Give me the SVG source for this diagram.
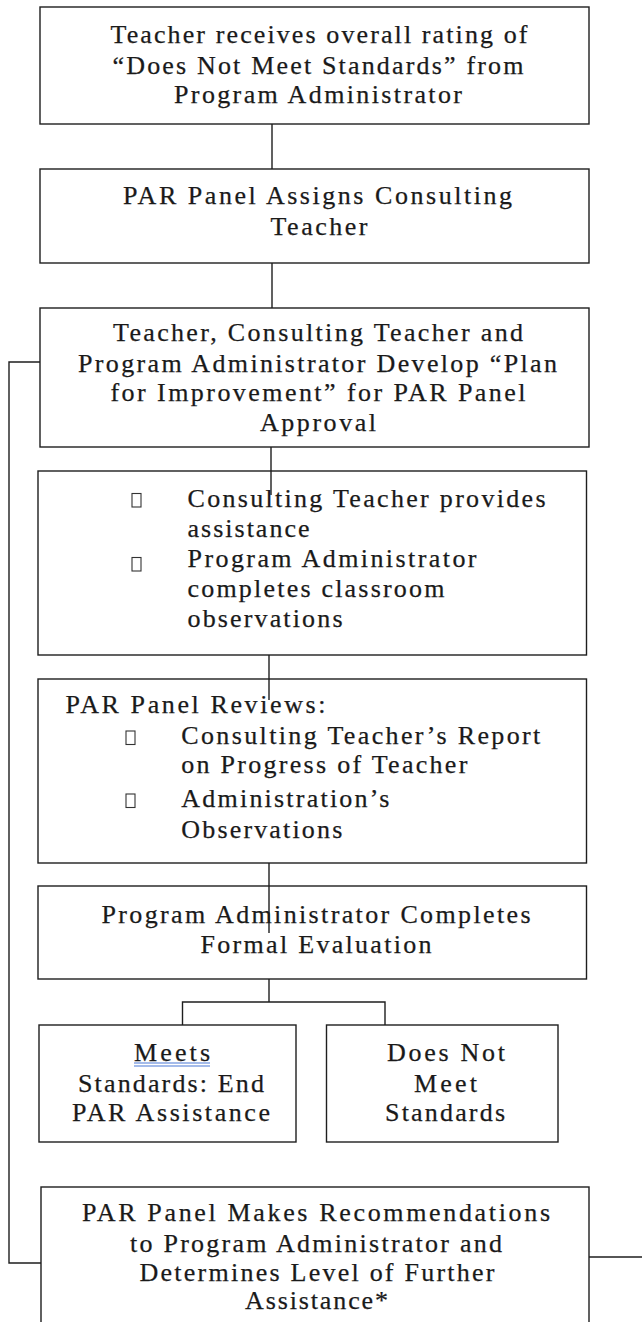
<svg xmlns="http://www.w3.org/2000/svg" width="642" height="1322" viewBox="0 0 642 1322">
<style>
.box{fill:#fff;stroke:#1e1e1e;stroke-width:1.4}
.ln{fill:none;stroke:#1e1e1e;stroke-width:1.4}
.t text{font-family:'Liberation Serif','Times New Roman',serif;font-size:26px;fill:#1a1a1a;stroke:#1a1a1a;stroke-width:0.25}
.c{text-anchor:middle}
.ul{stroke:#4a78d6;stroke-width:1.2}
.bl{fill:none;stroke:#333;stroke-width:1.1}
</style>
<rect width="642" height="1322" fill="#fff"/>
<g id="connectors">
<line class="ln" x1="272" y1="124" x2="272" y2="169"/>
<line class="ln" x1="272" y1="263" x2="272" y2="308"/>
<polyline class="ln" points="40,362 9,362 9,1263 41,1263"/>
<line class="ln" x1="589" y1="1257" x2="642" y2="1257"/>
<polyline class="ln" points="182.5,1025 182.5,1002 385,1002 385,1025"/>
<line class="ln" x1="269" y1="979" x2="269" y2="1002"/>
</g>
<g id="n1" class="t">
<rect class="box" x="40" y="7" width="549" height="117"/>
<text class="c" x="319" y="43" textLength="417" lengthAdjust="spacing">Teacher receives overall rating of</text>
<text class="c" x="318" y="74" textLength="411" lengthAdjust="spacing">“Does Not Meet Standards” from</text>
<text class="c" x="318" y="103" textLength="288" lengthAdjust="spacing">Program Administrator</text>
</g>
<g id="n2" class="t">
<rect class="box" x="40" y="169" width="549" height="94"/>
<text class="c" x="317.5" y="204" textLength="389" lengthAdjust="spacing">PAR Panel Assigns Consulting</text>
<text class="c" x="319" y="235" textLength="97" lengthAdjust="spacing">Teacher</text>
</g>
<g id="n3" class="t">
<rect class="box" x="40" y="308" width="549" height="139"/>
<text class="c" x="318" y="341" textLength="410" lengthAdjust="spacing">Teacher, Consulting Teacher and</text>
<text class="c" x="317.5" y="371.5" textLength="479" lengthAdjust="spacing">Program Administrator Develop “Plan</text>
<text class="c" x="318" y="401" textLength="415" lengthAdjust="spacing">for Improvement” for PAR Panel</text>
<text class="c" x="318" y="431" textLength="116" lengthAdjust="spacing">Approval</text>
</g>
<g id="n4" class="t">
<rect class="box" x="38" y="471" width="548.5" height="184"/>
<rect class="bl" x="132" y="493.5" width="9" height="13.5"/>
<text x="187.5" y="506.5" textLength="358" lengthAdjust="spacing">Consulting Teacher provides</text>
<text x="187.5" y="536.5" textLength="122" lengthAdjust="spacing">assistance</text>
<rect class="bl" x="132" y="557.5" width="9" height="13.5"/>
<text x="187.5" y="566.5" textLength="289" lengthAdjust="spacing">Program Administrator</text>
<text x="187.5" y="596.5" textLength="257" lengthAdjust="spacing">completes classroom</text>
<text x="187.5" y="627" textLength="155" lengthAdjust="spacing">observations</text>
</g>
<line class="ln" x1="271" y1="447" x2="271" y2="495"/>
<g id="n5" class="t">
<rect class="box" x="38" y="679" width="548.5" height="184"/>
<text x="65.5" y="713" textLength="260" lengthAdjust="spacing">PAR Panel Reviews:</text>
<rect class="bl" x="126" y="731" width="9" height="13.5"/>
<text x="181.3" y="744" textLength="359" lengthAdjust="spacing">Consulting Teacher’s Report</text>
<text x="181.3" y="773" textLength="286" lengthAdjust="spacing">on Progress of Teacher</text>
<rect class="bl" x="126" y="794" width="9" height="13.5"/>
<text x="181.3" y="807" textLength="208" lengthAdjust="spacing">Administration’s</text>
<text x="181.3" y="838" textLength="161" lengthAdjust="spacing">Observations</text>
</g>
<line class="ln" x1="269" y1="655" x2="269" y2="700"/>
<g id="n6" class="t">
<rect class="box" x="38" y="886" width="548.5" height="93"/>
<text class="c" x="316" y="923" textLength="429" lengthAdjust="spacing">Program Administrator Completes</text>
<text class="c" x="316" y="953" textLength="231" lengthAdjust="spacing">Formal Evaluation</text>
</g>
<line class="ln" x1="269" y1="863" x2="269" y2="933"/>
<g id="n7" class="t">
<rect class="box" x="39" y="1025" width="257" height="117"/>
<text class="c" x="172" y="1061" textLength="76" lengthAdjust="spacing">Meets</text>
<line class="ul" x1="134" y1="1063" x2="210" y2="1063"/>
<line class="ul" x1="134" y1="1066" x2="210" y2="1066"/>
<text class="c" x="171" y="1091.5" textLength="186" lengthAdjust="spacing">Standards: End</text>
<text class="c" x="171" y="1121" textLength="198" lengthAdjust="spacing">PAR Assistance</text>
</g>
<g id="n8" class="t">
<rect class="box" x="326.5" y="1025" width="231.5" height="117"/>
<text class="c" x="446" y="1061" textLength="118" lengthAdjust="spacing">Does Not</text>
<text class="c" x="445.5" y="1091.5" textLength="63" lengthAdjust="spacing">Meet</text>
<text class="c" x="445" y="1121" textLength="120" lengthAdjust="spacing">Standards</text>
</g>
<g id="n9" class="t">
<rect class="box" x="41" y="1187" width="548" height="160"/>
<text class="c" x="316" y="1220.5" textLength="468" lengthAdjust="spacing">PAR Panel Makes Recommendations</text>
<text class="c" x="316" y="1251.5" textLength="372" lengthAdjust="spacing">to Program Administrator and</text>
<text class="c" x="317" y="1281" textLength="355" lengthAdjust="spacing">Determines Level of Further</text>
<text class="c" x="316.5" y="1309" textLength="143" lengthAdjust="spacing">Assistance*</text>
</g>
</svg>
